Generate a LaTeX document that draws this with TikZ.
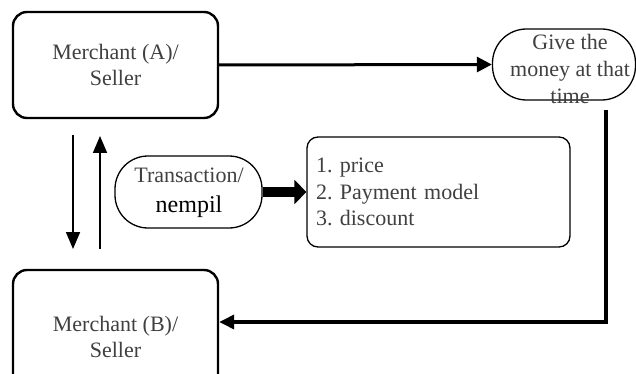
\documentclass[tikz,border=0pt]{standalone}
\usepackage{fontspec}
\setmainfont{Liberation Serif}
\usetikzlibrary{arrows.meta}
\definecolor{txt}{HTML}{404040}
\frenchspacing
\begin{document}
\begin{tikzpicture}[x=1pt,y=-1pt,
  mbox/.style={draw, rounded corners=14pt, line width=2.4pt, minimum width=205pt, text=txt, align=center, font=\rmfamily\fontsize{22}{26}\selectfont},
  stad/.style={draw, rounded corners=34pt, line width=1.3pt},
  lbl/.style={text=txt, align=center, font=\rmfamily\fontsize{22}{27}\selectfont, inner sep=0pt},
  main/.style={line width=3pt, -{Triangle[length=15pt,width=15pt]}},
  thin/.style={line width=1.8pt, -{Triangle[length=17pt,width=14pt]}}
]
\useasboundingbox (0,0) rectangle (636,374);
\clip (0,0) rectangle (636,374);
\fill[white] (0,0) rectangle (636,374);

\node[mbox, minimum height=106pt] (A) at (115.5,65) {Merchant (A)/\\Seller};
\node[mbox, minimum height=134pt] (B) at (115.5,337) {Merchant (B)/\\Seller};

\node[stad, minimum width=143pt, minimum height=71pt, inner sep=0pt] (gm) at (564,64.5) {};
\node[lbl] (gmt) at (570,69) {Give the\\money at that\\time};

\node[stad, minimum width=147pt, minimum height=72pt, inner sep=0pt, rounded corners=33pt] (tr) at (188.5,192) {};
\node[lbl, font=\rmfamily\fontsize{22}{30}\selectfont] (trt) at (189,193) {Transaction/\\{\rmfamily\fontsize{24}{30}\selectfont\color{black}nempil}};

\node[draw, rounded corners=11pt, line width=1.3pt, minimum width=263pt, minimum height=110pt, inner xsep=9pt, text width=245pt, align=left, text=txt, font=\rmfamily\fontsize{22}{26.5}\selectfont] (L) at (438.5,192) {1. price\\2. Payment model\\3. discount};

\draw[main] (A.east) -- (gm.west);
\draw[line width=10pt, -{Triangle[length=12pt,width=24pt]}] (tr.east) -- (L.west);

\coordinate (c1) at (606,110);
\coordinate (c2) at (606,322);
\draw[line width=3.5pt, line join=miter, -{Triangle[length=15pt,width=14pt]}] (c1) -- (c2) -- (B.east |- c2);

\coordinate (d1) at (73,135);
\coordinate (d2) at (73,249);
\coordinate (u1) at (100,249);
\coordinate (u2) at (100,136);
\draw[thin] (d1) -- (d2);
\draw[thin] (u1) -- (u2);
\end{tikzpicture}
\end{document}
